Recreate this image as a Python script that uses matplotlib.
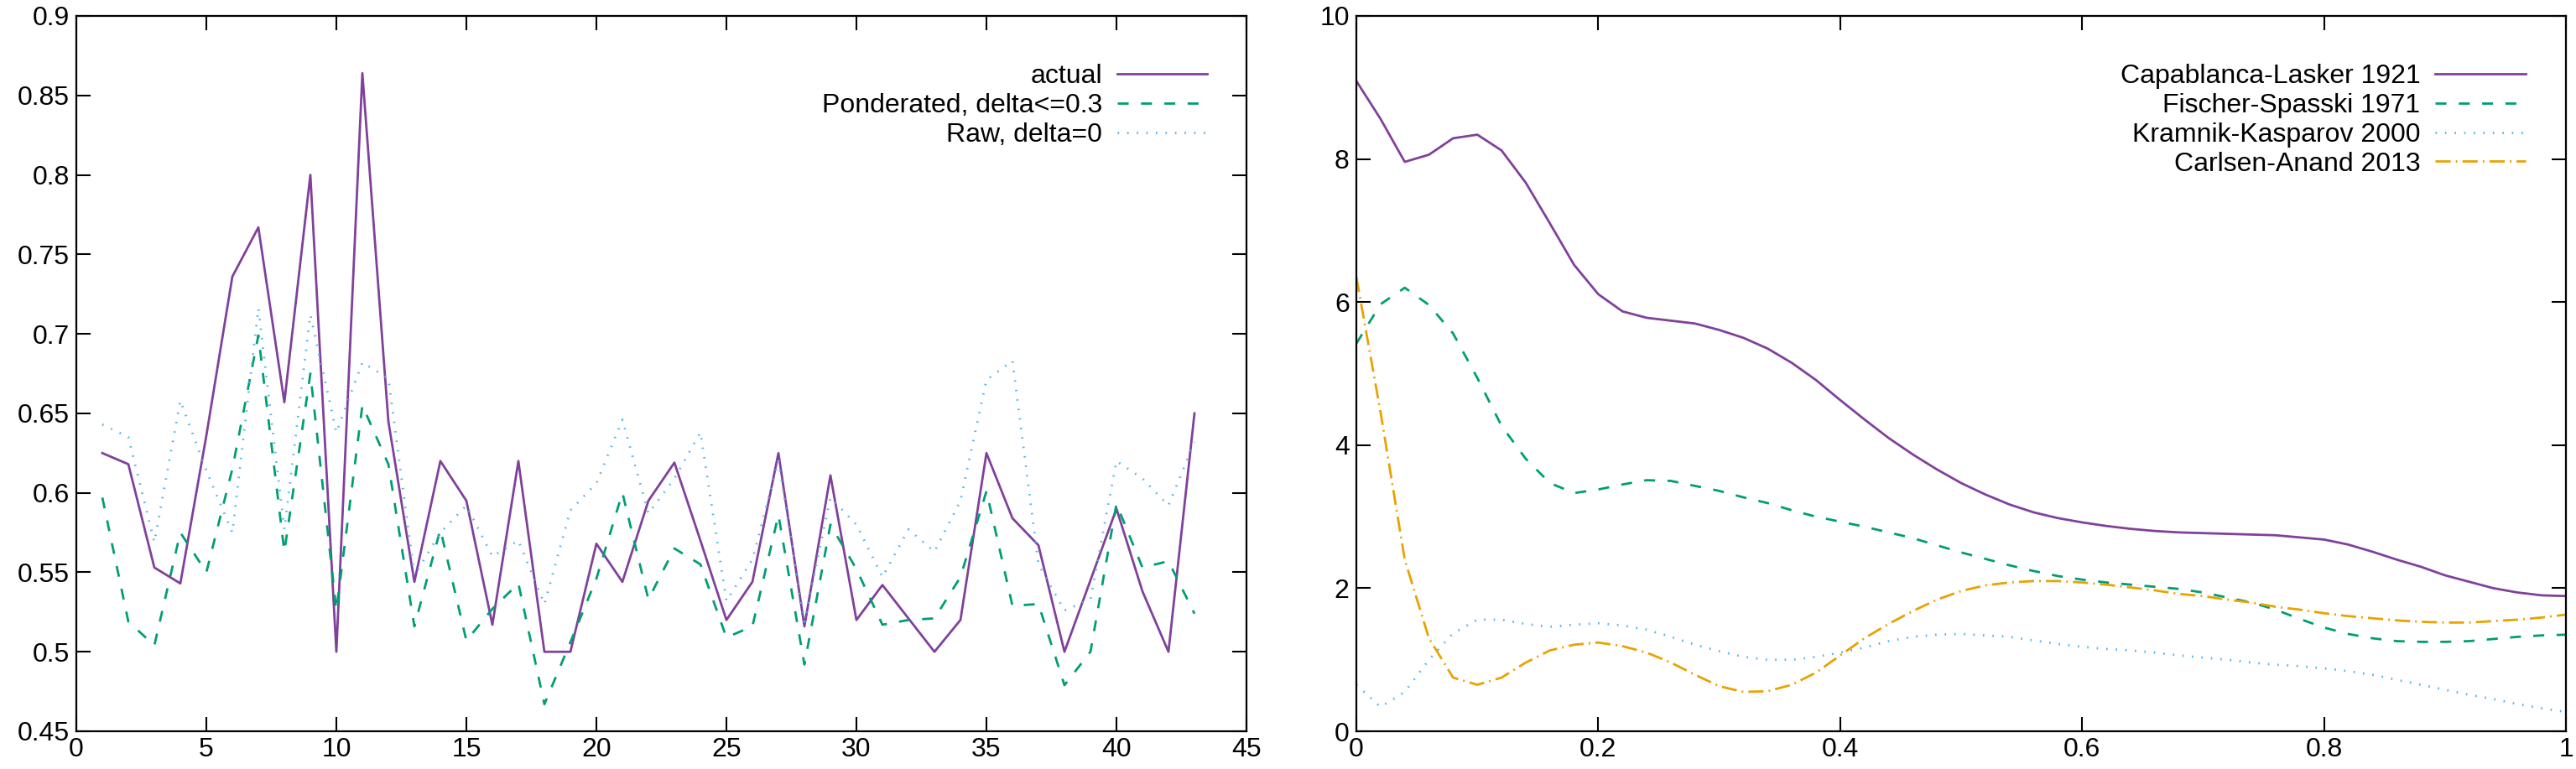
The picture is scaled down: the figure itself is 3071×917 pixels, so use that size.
import numpy as np
import matplotlib.pyplot as plt
from matplotlib.ticker import FixedLocator, FuncFormatter

plt.rcParams['font.family'] = ['Liberation Sans', 'DejaVu Sans']

# left panel data
games = np.arange(1, 44)
actual = [0.625, 0.618, 0.553, 0.543, 0.636, 0.736, 0.767, 0.657, 0.800, 0.500,
          0.864, 0.645, 0.544, 0.620, 0.595, 0.517, 0.620, 0.500, 0.500, 0.568,
          0.544, 0.595, 0.619, 0.570, 0.520, 0.544, 0.625, 0.516, 0.611, 0.520,
          0.542, 0.521, 0.500, 0.520, 0.625, 0.584, 0.567, 0.500, 0.545, 0.590,
          0.538, 0.500, 0.650]
ponderated = [0.597, 0.519, 0.504, 0.575, 0.550, 0.615, 0.699, 0.563, 0.675, 0.526,
              0.655, 0.618, 0.516, 0.577, 0.507, 0.527, 0.543, 0.467, 0.506, 0.546,
              0.600, 0.533, 0.565, 0.555, 0.509, 0.516, 0.586, 0.492, 0.580, 0.552,
              0.517, 0.520, 0.521, 0.547, 0.601, 0.529, 0.530, 0.479, 0.500, 0.593,
              0.553, 0.557, 0.524]
raw = [0.643, 0.635, 0.569, 0.658, 0.614, 0.575, 0.716, 0.577, 0.712, 0.638,
       0.682, 0.672, 0.548, 0.575, 0.592, 0.560, 0.570, 0.530, 0.589, 0.606,
       0.646, 0.587, 0.609, 0.638, 0.532, 0.558, 0.620, 0.519, 0.597, 0.580,
       0.547, 0.577, 0.563, 0.595, 0.671, 0.683, 0.555, 0.526, 0.533, 0.620,
       0.609, 0.592, 0.632]
left_labels = ['actual', 'Ponderated, delta<=0.3', 'Raw, delta=0']

# right panel data
delta = np.linspace(0, 1, 51)
capablanca = [9.09, 8.56, 7.96, 8.06, 8.29, 8.34, 8.12, 7.67, 7.10, 6.52,
              6.11, 5.87, 5.78, 5.74, 5.70, 5.61, 5.50, 5.35, 5.15, 4.91,
              4.63, 4.36, 4.10, 3.87, 3.66, 3.47, 3.31, 3.17, 3.06, 2.98,
              2.92, 2.87, 2.83, 2.80, 2.78, 2.77, 2.76, 2.75, 2.74, 2.71,
              2.68, 2.61, 2.51, 2.40, 2.30, 2.18, 2.09, 2.00, 1.94, 1.90, 1.89]
fischer = [5.42, 5.97, 6.20, 5.96, 5.56, 4.94, 4.27, 3.81, 3.47, 3.33,
           3.38, 3.45, 3.51, 3.50, 3.43, 3.36, 3.27, 3.19, 3.09, 3.00,
           2.93, 2.86, 2.78, 2.70, 2.60, 2.50, 2.41, 2.32, 2.24, 2.17,
           2.12, 2.08, 2.05, 2.02, 1.99, 1.94, 1.87, 1.80, 1.70, 1.57,
           1.45, 1.36, 1.30, 1.26, 1.25, 1.25, 1.26, 1.29, 1.32, 1.34, 1.35]
kramnik = [0.65, 0.34, 0.55, 1.00, 1.37, 1.56, 1.56, 1.50, 1.46, 1.49,
           1.51, 1.48, 1.42, 1.32, 1.21, 1.12, 1.04, 1.00, 1.00, 1.04,
           1.10, 1.17, 1.26, 1.32, 1.35, 1.36, 1.34, 1.32, 1.27, 1.22,
           1.18, 1.15, 1.13, 1.10, 1.06, 1.03, 1.00, 0.96, 0.93, 0.91,
           0.88, 0.84, 0.79, 0.72, 0.65, 0.58, 0.51, 0.45, 0.38, 0.32, 0.27]
carlsen = [6.35, 4.46, 2.40, 1.30, 0.75, 0.65, 0.75, 0.96, 1.13, 1.21,
           1.24, 1.19, 1.10, 0.96, 0.79, 0.63, 0.55, 0.56, 0.65, 0.82,
           1.06, 1.30, 1.50, 1.68, 1.84, 1.96, 2.04, 2.08, 2.10, 2.10,
           2.08, 2.05, 2.01, 1.97, 1.92, 1.89, 1.84, 1.80, 1.74, 1.70,
           1.65, 1.61, 1.58, 1.55, 1.53, 1.52, 1.52, 1.54, 1.56, 1.59, 1.63]
right_labels = ['Capablanca-Lasker 1921', 'Fischer-Spasski 1971',
                'Kramnik-Kasparov 2000', 'Carlsen-Anand 2013']

purple = '#80409b'
green = '#009e73'
blue = '#56b4e9'
orange = '#e9a200'

fig = plt.figure(figsize=(30.71, 9.17), dpi=100)
ax1 = fig.add_axes([91 / 3071, 45 / 917, 1395 / 3071, 853 / 917])
ax2 = fig.add_axes([1617 / 3071, 45 / 917, 1442 / 3071, 853 / 917])

lw = 2.0
ax1.plot(games, actual, color=purple, lw=lw, label=left_labels[0])
ax1.plot(games, ponderated, color=green, lw=lw, dashes=[4.7, 5.3], label=left_labels[1])
ax1.plot(games, raw, color=blue, lw=lw, dashes=[0.6, 3.5], label=left_labels[2])

ax2.plot(delta, capablanca, color=purple, lw=lw, label=right_labels[0])
ax2.plot(delta, fischer, color=green, lw=lw, dashes=[4.7, 5.3], label=right_labels[1])
ax2.plot(delta, kramnik, color=blue, lw=lw, dashes=[0.6, 3.5], label=right_labels[2])
ax2.plot(delta, carlsen, color=orange, lw=lw, dashes=[6.5, 2.2, 0.7, 2.2], label=right_labels[3])

ax1.set_xlim(0, 45)
ax1.set_ylim(0.45, 0.9)
ax1.xaxis.set_major_locator(FixedLocator(np.arange(0, 46, 5)))
ax1.yaxis.set_major_locator(FixedLocator(np.arange(0.45, 0.901, 0.05)))

ax2.set_xlim(0, 1)
ax2.set_ylim(0, 10)
ax2.xaxis.set_major_locator(FixedLocator(np.arange(0, 1.01, 0.2)))
ax2.yaxis.set_major_locator(FixedLocator(np.arange(0, 10.1, 2)))

fmt = FuncFormatter(lambda v, p: '%g' % round(v, 6))
for ax in (ax1, ax2):
    ax.xaxis.set_major_formatter(fmt)
    ax.yaxis.set_major_formatter(fmt)
    ax.tick_params(direction='in', length=12, width=1.5, top=True, right=True,
                   labelsize=23, colors='black')
    ax.tick_params(axis='x', pad=5)
    ax.tick_params(axis='y', pad=6)
    for s in ax.spines.values():
        s.set_linewidth(1.6)
    ax.legend(loc='upper right', bbox_to_anchor=(0.9665, 0.933), frameon=False,
              markerfirst=False, fontsize=23, handlelength=3.37, handletextpad=0.55,
              labelspacing=0.15, borderpad=0, borderaxespad=0)

fig.savefig('out.png', dpi=100)
